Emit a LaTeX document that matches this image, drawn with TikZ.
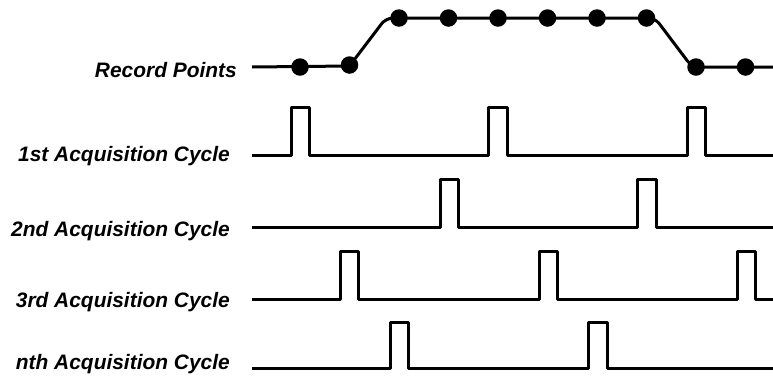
\documentclass[tikz,border=0pt]{standalone}
\usepackage{fontspec}
\setmainfont{Liberation Sans}
\begin{document}
\begin{tikzpicture}[x=1bp,y=-1bp,
  wave/.style={line width=3bp, line join=round},
  lbl/.style={anchor=base east, inner sep=0pt, font=\fontsize{21}{25}\selectfont\bfseries\itshape},
  dot/.style={circle, fill=black, inner sep=0pt, minimum size=17.5bp}]
\useasboundingbox (0,0) rectangle (773,377);
% labels
\node[lbl] (lrec) at (237,77) {Record Points};
\node[lbl] (l1) at (230,161) {1st Acquisition Cycle};
\node[lbl] (l2) at (230,236) {2nd Acquisition Cycle};
\node[lbl] (l3) at (230,307) {3rd Acquisition Cycle};
\node[lbl] (ln) at (230,369) {nth Acquisition Cycle};
% record points trace
\draw[wave, rounded corners=7bp] (252,67) -- (349.5,66) -- (386,18) -- (655,18) -- (692,67) -- (775,67);
\node[dot] (p1) at (300,67) {};
\node[dot] (p2) at (349.5,65) {};
\node[dot] (p3) at (399,18) {};
\node[dot] (p4) at (448.5,18) {};
\node[dot] (p5) at (498,18) {};
\node[dot] (p6) at (547.5,18) {};
\node[dot] (p7) at (597,18) {};
\node[dot] (p8) at (646.5,18) {};
\node[dot] (p9) at (696,67) {};
\node[dot] (p10) at (745.5,67) {};
% 1st cycle
\draw[wave] (252,155) -- (291,155) -- (291,107) -- (309,107) -- (309,155)
  -- (488,155) -- (488,107) -- (507,107) -- (507,155)
  -- (687,155) -- (687,107) -- (705,107) -- (705,155) -- (775,155);
% 2nd cycle
\draw[wave] (252,227) -- (440,227) -- (440,179) -- (458,179) -- (458,227)
  -- (637,227) -- (637,179) -- (656,179) -- (656,227) -- (775,227);
% 3rd cycle
\draw[wave] (252,299) -- (340,299) -- (340,251) -- (358,251) -- (358,299)
  -- (539,299) -- (539,251) -- (557,251) -- (557,299)
  -- (737,299) -- (737,251) -- (755,251) -- (755,299) -- (775,299);
% nth cycle
\draw[wave] (252,368) -- (390,368) -- (390,322) -- (408,322) -- (408,368)
  -- (588,368) -- (588,322) -- (607,322) -- (607,368) -- (775,368);
\end{tikzpicture}
\end{document}
